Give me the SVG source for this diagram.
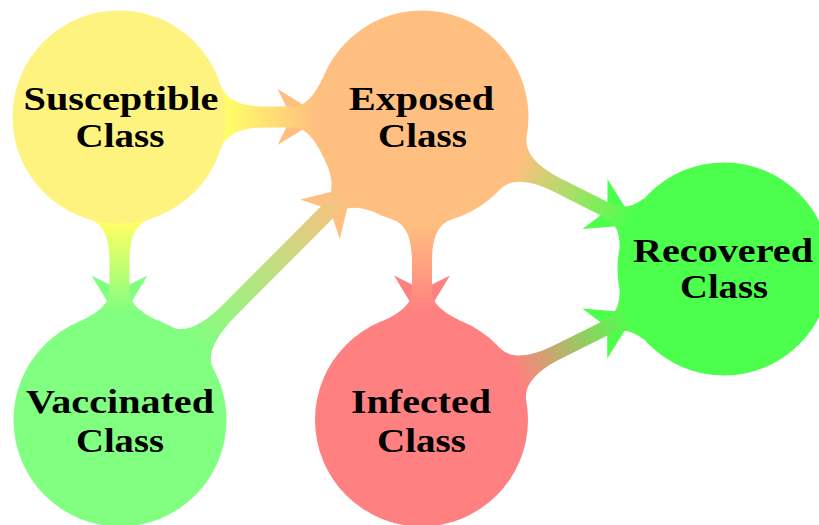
<svg xmlns="http://www.w3.org/2000/svg" width="819" height="525" viewBox="0 0 819 525">
<style>
.lbl{font-family:"Liberation Serif","Times New Roman",serif;font-weight:bold;font-size:33px;text-anchor:middle;fill:#000}
</style>
<defs>
<linearGradient id="gSE" gradientUnits="userSpaceOnUse" x1="106.5" y1="0" x2="196.5" y2="0"><stop offset="0" stop-color="#FFFF66"/><stop offset="1" stop-color="#FFBF80"/></linearGradient>
<linearGradient id="gSV" gradientUnits="userSpaceOnUse" x1="106.5" y1="0" x2="196.5" y2="0"><stop offset="0" stop-color="#FFFF66"/><stop offset="1" stop-color="#80FF80"/></linearGradient>
<linearGradient id="gEI" gradientUnits="userSpaceOnUse" x1="106.5" y1="0" x2="196.5" y2="0"><stop offset="0" stop-color="#FFBF80"/><stop offset="1" stop-color="#FF8080"/></linearGradient>
<linearGradient id="gVE" gradientUnits="userSpaceOnUse" x1="106.5" y1="0" x2="321.3" y2="0"><stop offset="0" stop-color="#80FF80"/><stop offset="1" stop-color="#FFBF80"/></linearGradient>
<linearGradient id="gER" gradientUnits="userSpaceOnUse" x1="106.5" y1="0" x2="231.6" y2="0"><stop offset="0" stop-color="#FFBF80"/><stop offset="1" stop-color="#4DFF4D"/></linearGradient>
<linearGradient id="gIR" gradientUnits="userSpaceOnUse" x1="106.5" y1="0" x2="231.6" y2="0"><stop offset="0" stop-color="#FF8080"/><stop offset="1" stop-color="#4DFF4D"/></linearGradient>
</defs>
<g id="connectors">
<g id="c-S-E" transform="translate(119,117)">
<path d="M158.5,-28 L204.5,0 L158.5,28 L172.5,0 Z" fill="#FFBF80"/>
<path d="M100.9,-34 C106,-18.8 118.5,-10.5 146.5,-10.5 L174.5,-10.5 Q190.5,-10.5 204.3,-40 L204.3,40 Q190.5,10.5 174.5,10.5 L146.5,10.5 C118.5,10.5 106,18.8 100.9,34 Z" fill="url(#gSE)"/>
</g>
<g id="c-S-V" transform="translate(119.5,117) rotate(90)">
<path d="M158.5,-28 L204.5,0 L158.5,28 L172.5,0 Z" fill="#80FF80"/>
<path d="M101.6,-32 C106.4,-16.7 118.5,-10 146.5,-10 L174.5,-10 Q190.5,-10 203.5,-38 L203.5,38 Q190.5,10 174.5,10 L146.5,10 C118.5,10 106.4,16.7 101.6,32 Z" fill="url(#gSV)"/>
</g>
<g id="c-E-I" transform="translate(422,117) rotate(90)">
<path d="M158.5,-28 L204.5,0 L158.5,28 L172.5,0 Z" fill="#FF8080"/>
<path d="M101.6,-32 C106.4,-16.7 118.5,-10 146.5,-10 L174.5,-10 Q190.5,-10 203.5,-38 L203.5,38 Q190.5,10 174.5,10 L146.5,10 C118.5,10 106.4,16.7 101.6,32 Z" fill="url(#gEI)"/>
</g>
<g id="c-V-E" transform="translate(120,420) rotate(-45.1)">
<path d="M283.3,-28 L329.3,0 L283.3,28 L297.3,0 Z" fill="#FFBF80"/>
<path d="M102.2,-30 C106.7,-14.7 126.5,-8.5 156.5,-8.5 L299.3,-8.5 Q315.3,-8.5 326.2,-32 L326.2,32 Q315.3,8.5 299.3,8.5 L156.5,8.5 C126.5,8.5 106.7,14.7 102.2,30 Z" fill="url(#gVE)"/>
</g>
<g id="c-E-R" transform="translate(422,117) rotate(26.72)">
<path d="M193.6,-28 L239.6,0 L193.6,28 L207.6,0 Z" fill="#4DFF4D"/>
<path d="M102.2,-30 C106.7,-14.7 124.5,-7.5 151.5,-7.5 L209.6,-7.5 Q225.6,-7.5 235.4,-28 L235.4,28 Q225.6,7.5 209.6,7.5 L151.5,7.5 C124.5,7.5 106.7,14.7 102.2,30 Z" fill="url(#gER)"/>
</g>
<g id="c-I-R" transform="translate(421.5,420) rotate(-26.53)">
<path d="M193.6,-28 L239.6,0 L193.6,28 L207.6,0 Z" fill="#4DFF4D"/>
<path d="M102.2,-30 C106.7,-14.7 124.5,-7.5 151.5,-7.5 L209.6,-7.5 Q225.6,-7.5 235.4,-28 L235.4,28 Q225.6,7.5 209.6,7.5 L151.5,7.5 C124.5,7.5 106.7,14.7 102.2,30 Z" fill="url(#gIR)"/>
</g>
</g>
<g id="susceptible">
<circle cx="119" cy="117" r="106.5" fill="#FFF380"/>
<text class="lbl" x="121" y="110" textLength="195" lengthAdjust="spacingAndGlyphs">Susceptible</text>
<text class="lbl" x="120" y="147" textLength="89" lengthAdjust="spacingAndGlyphs">Class</text>
</g>
<g id="exposed">
<circle cx="422" cy="117" r="106.5" fill="#FFBF80"/>
<text class="lbl" x="421.5" y="110" textLength="145" lengthAdjust="spacingAndGlyphs">Exposed</text>
<text class="lbl" x="422.5" y="147" textLength="89" lengthAdjust="spacingAndGlyphs">Class</text>
</g>
<g id="vaccinated">
<circle cx="120" cy="420" r="106.5" fill="#80FF80"/>
<text class="lbl" x="120" y="413" textLength="188" lengthAdjust="spacingAndGlyphs">Vaccinated</text>
<text class="lbl" x="120" y="452" textLength="88" lengthAdjust="spacingAndGlyphs">Class</text>
</g>
<g id="infected">
<circle cx="421.5" cy="420" r="106.5" fill="#FF8080"/>
<text class="lbl" x="421" y="413" textLength="140" lengthAdjust="spacingAndGlyphs">Infected</text>
<text class="lbl" x="421.5" y="452" textLength="89" lengthAdjust="spacingAndGlyphs">Class</text>
</g>
<g id="recovered">
<circle cx="724" cy="269" r="106.5" fill="#4DFF4D"/>
<text class="lbl" x="723" y="262" textLength="180" lengthAdjust="spacingAndGlyphs">Recovered</text>
<text class="lbl" x="724" y="298" textLength="88" lengthAdjust="spacingAndGlyphs">Class</text>
</g>
</svg>
